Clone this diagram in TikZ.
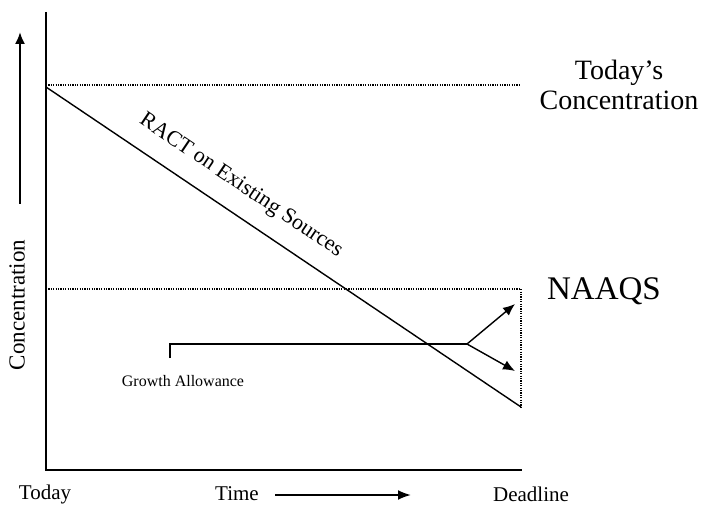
\documentclass[tikz,border=0pt]{standalone}
\usepackage{fontspec}
\setmainfont{Liberation Serif}
\usetikzlibrary{arrows.meta}
\begin{document}
\begin{tikzpicture}[x=1pt,y=-1pt,
  axisline/.style={line width=2pt},
  dotline/.style={line width=1.3pt, dash pattern=on 1.2pt off 1.2pt},
  solidline/.style={line width=1.4pt},
  arr/.style={-{Latex[length=12pt,width=10pt]}},
  lbl/.style={inner sep=0pt, font=\fontsize{20}{24}\selectfont}
]
\useasboundingbox (0,0) rectangle (704,505);
% coordinates
\coordinate (top) at (46,12);
\coordinate (orig) at (46,470);
\coordinate (xend) at (522,470);
\coordinate (tcL) at (46,85);
\coordinate (tcR) at (520,85);
\coordinate (nqL) at (46,289);
\coordinate (nqR) at (521,289);
\coordinate (dlB) at (521,407);
\coordinate (start) at (46,87);
\coordinate (finish) at (521,407);
\coordinate (gaB) at (170,358);
\coordinate (gaT) at (170,344);
\coordinate (br) at (467,344);
\coordinate (up) at (515,304);
\coordinate (dn) at (515,371);
\coordinate (ca0) at (20,204);
\coordinate (ca1) at (20,32);
\coordinate (ta0) at (275,495);
\coordinate (ta1) at (411,495);
% axes
\draw[axisline] (top) -- (orig) -- (xend);
% dotted lines
\draw[dotline] (tcL) -- (tcR);
\draw[dotline] (nqL) -- (nqR) -- (dlB);
% RACT line
\draw[solidline] (start) -- (finish);
\node[lbl, rotate=-34, font=\fontsize{22}{24}\selectfont] (ract) at (241,186) {RACT on Existing Sources};
% growth allowance
\draw[solidline] (gaB) -- (gaT) -- (br);
\draw[solidline, arr] (br) -- (up);
\draw[solidline, arr] (br) -- (dn);
\node[lbl, font=\fontsize{16}{19}\selectfont] (ga) at (183,381) {Growth Allowance};
% labels
\node[lbl, align=center, font=\fontsize{28}{30}\selectfont] (tc) at (619,85) {Today's\\Concentration};
\node[lbl, font=\fontsize{33}{36}\selectfont] (naaqs) at (604,291) {NAAQS};
\node[lbl, font=\fontsize{21}{24}\selectfont] (today) at (45,494) {Today};
\node[lbl, font=\fontsize{21}{24}\selectfont] (time) at (237,494) {Time};
\node[lbl, font=\fontsize{21}{24}\selectfont] (deadline) at (531,494) {Deadline};
\node[lbl, rotate=90, font=\fontsize{23}{26}\selectfont] (conc) at (17,305) {Concentration};
% arrows
\draw[line width=2pt, arr] (ca0) -- (ca1);
\draw[line width=2pt, -{Latex[length=13pt,width=10pt]}] (ta0) -- (ta1);
\end{tikzpicture}
\end{document}
